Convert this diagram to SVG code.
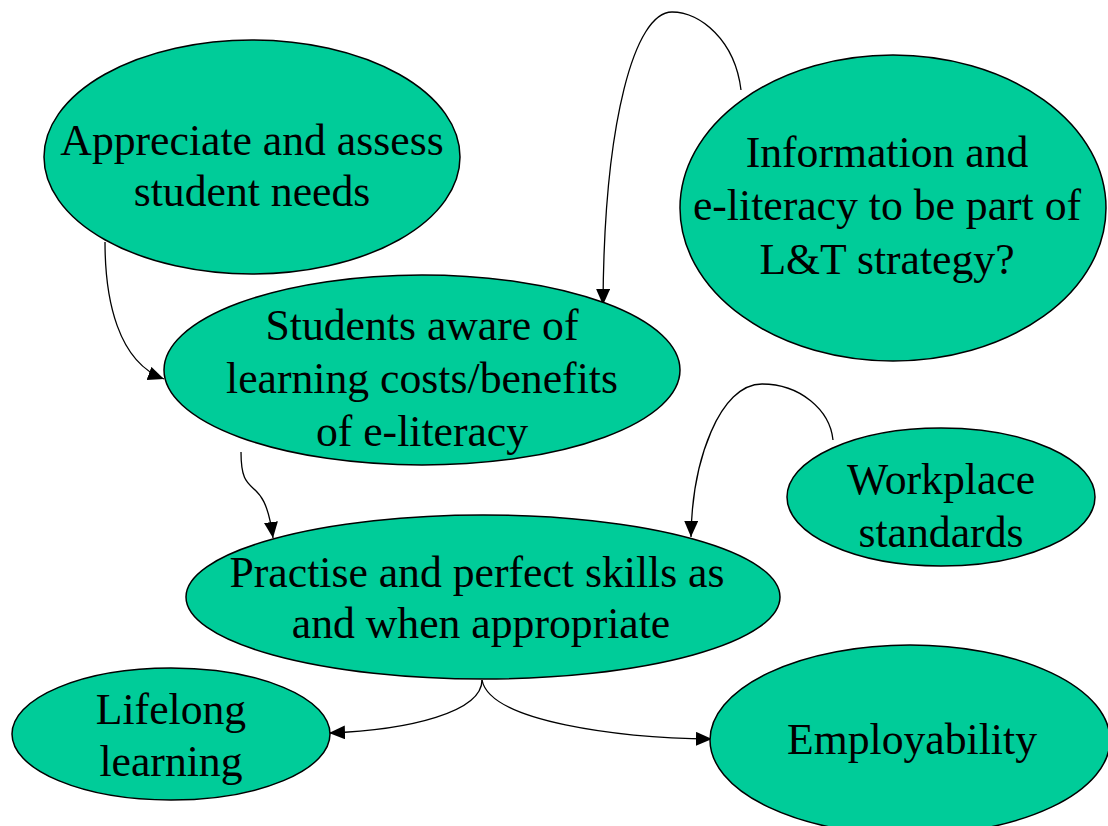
<svg xmlns="http://www.w3.org/2000/svg" width="1108" height="826" viewBox="0 0 1108 826">
<style>
.n{fill:#00CC99;stroke:#000;stroke-width:1.5}
.t{font-family:"Liberation Serif","Times New Roman",serif;font-size:43.7px;fill:#000;text-anchor:middle}
.c{fill:none;stroke:#000;stroke-width:1.3;marker-end:url(#a)}
</style>
<defs>
<marker id="a" markerUnits="userSpaceOnUse" markerWidth="18" markerHeight="16" refX="16" refY="7" orient="auto">
<path d="M0,0 L16,7 L0,14 Z" fill="#000"/>
</marker>
</defs>
<rect width="1108" height="826" fill="#fff"/>
<g id="connectors">
<path class="c" d="M741,90 C735,40 700,12 672,12 C635,12 604,120 603,305"/>
<path class="c" d="M105,242 C105,300 118,362 164,379"/>
<path class="c" d="M241,452 C241,505 264,468 273,538"/>
<path class="c" d="M833,440 C830,410 800,384 762,384 C720,384 692,460 691,537"/>
<path class="c" d="M482,680 C482,712 410,730 329,733"/>
<path class="c" d="M482,680 C490,722 620,738 712,739"/>
</g>
<g id="appreciate">
<ellipse class="n" cx="252" cy="157" rx="208" ry="117"/>
<text class="t" x="252" y="155">Appreciate and assess</text>
<text class="t" x="252" y="206">student needs</text>
</g>
<g id="information">
<ellipse class="n" cx="893" cy="208" rx="213" ry="153"/>
<text class="t" x="887" y="167">Information and</text>
<text class="t" x="887" y="220">e-literacy to be part of</text>
<text class="t" x="887" y="274">L&amp;T strategy?</text>
</g>
<g id="students">
<ellipse class="n" cx="422" cy="370" rx="258" ry="95"/>
<text class="t" x="422" y="340">Students aware of</text>
<text class="t" x="422" y="393">learning costs/benefits</text>
<text class="t" x="422" y="446">of e-literacy</text>
</g>
<g id="workplace">
<ellipse class="n" cx="941" cy="497" rx="154" ry="69"/>
<text class="t" x="941" y="494">Workplace</text>
<text class="t" x="941" y="547">standards</text>
</g>
<g id="practise">
<ellipse class="n" cx="483" cy="597" rx="297" ry="82"/>
<text class="t" x="477" y="587">Practise and perfect skills as</text>
<text class="t" x="481" y="638">and when appropriate</text>
</g>
<g id="lifelong">
<ellipse class="n" cx="171" cy="734" rx="159" ry="66"/>
<text class="t" x="171" y="724">Lifelong</text>
<text class="t" x="171" y="776">learning</text>
</g>
<g id="employability">
<ellipse class="n" cx="910" cy="740" rx="200" ry="95"/>
<text class="t" x="912" y="754">Employability</text>
</g>
</svg>
